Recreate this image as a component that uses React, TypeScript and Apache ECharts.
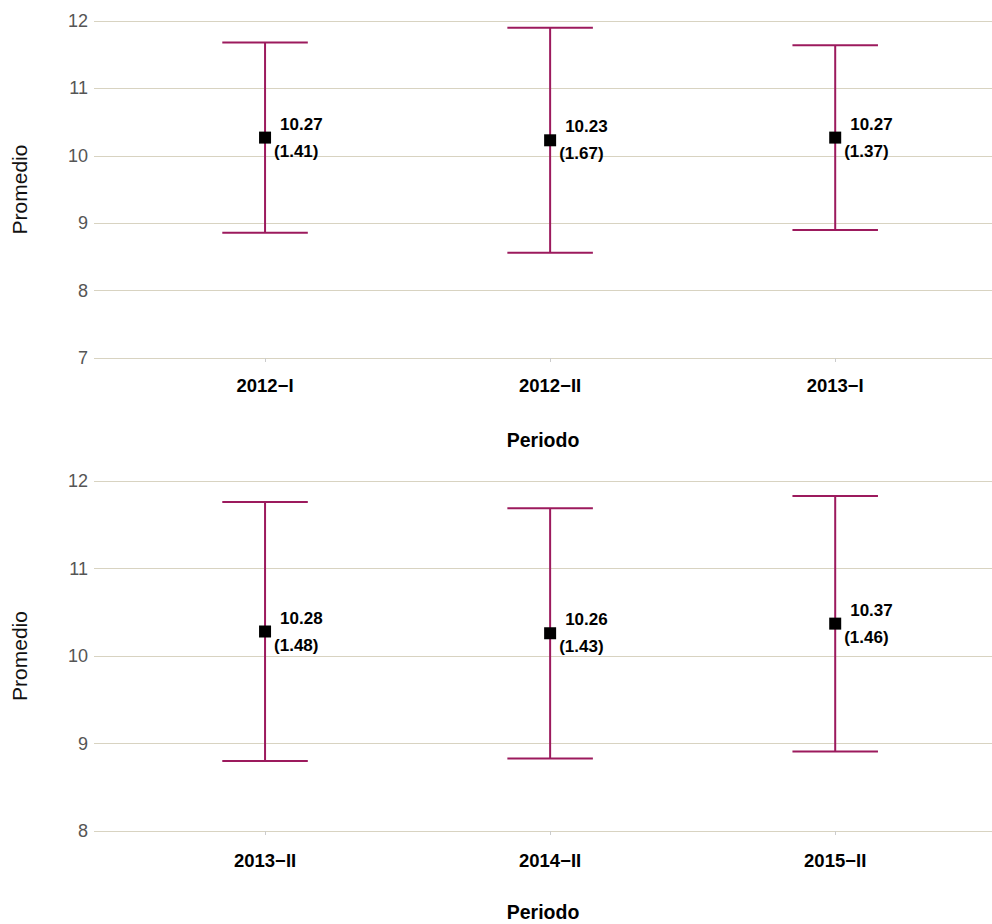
import React, { useEffect, useRef } from "react";
import * as echarts from "echarts";

const topCategories = ["2012−I", "2012−II", "2013−I"];
const topMeans = [10.27, 10.23, 10.27];
const topSds = [1.41, 1.67, 1.37];

const bottomCategories = ["2013−II", "2014−II", "2015−II"];
const bottomMeans = [10.28, 10.26, 10.37];
const bottomSds = [1.48, 1.43, 1.46];

const FONT = "Liberation Sans, Arial, Helvetica, sans-serif";
const BAR_COLOR = "#9c1a5d";
const GRID_COLOR = "#d8d3c1";

function buildSeries(idx: number, means: number[], sds: number[]) {
  const errData = means.map((m, i) => [i + 1, m - sds[i], m + sds[i]]);
  const ptData = means.map((m, i) => [i + 1, m, sds[i]]);
  return [
    {
      type: "custom",
      xAxisIndex: idx,
      yAxisIndex: idx,
      data: errData,
      z: 2,
      renderItem: (params: any, api: any) => {
        const x = api.value(0);
        const lo = api.value(1);
        const hi = api.value(2);
        const pLo = api.coord([x, lo]);
        const pHi = api.coord([x, hi]);
        const cL = api.coord([x - 0.15, lo]);
        const cR = api.coord([x + 0.15, lo]);
        const style = { stroke: BAR_COLOR, lineWidth: 2 };
        return {
          type: "group",
          children: [
            { type: "line", shape: { x1: pLo[0], y1: pLo[1], x2: pHi[0], y2: pHi[1] }, style },
            { type: "line", shape: { x1: cL[0], y1: pLo[1], x2: cR[0], y2: pLo[1] }, style },
            { type: "line", shape: { x1: cL[0], y1: pHi[1], x2: cR[0], y2: pHi[1] }, style },
          ],
        };
      },
    },
    {
      type: "scatter",
      xAxisIndex: idx,
      yAxisIndex: idx,
      data: ptData,
      symbol: "rect",
      symbolSize: 12,
      z: 3,
      itemStyle: { color: "#000000", opacity: 1 },
      label: {
        show: true,
        position: "right",
        distance: 3,
        align: "left",
        formatter: (p: any) => `{a|${p.value[1].toFixed(2)}}\n{b|(${p.value[2].toFixed(2)})}`,
        rich: {
          a: { fontFamily: FONT, fontWeight: "bold", fontSize: 17, color: "#000", padding: [0, 0, 0, 6], lineHeight: 27 },
          b: { fontFamily: FONT, fontWeight: "bold", fontSize: 17, color: "#000", padding: [0, 0, 0, 0], lineHeight: 27 },
        },
      },
    },
  ];
}

function xAxisFor(idx: number, cats: string[], margin: number, nameGap: number) {
  return {
    type: "value",
    gridIndex: idx,
    min: 0.4,
    max: 3.55,
    axisLine: { show: false },
    splitLine: { show: false },
    axisTick: { show: true, length: 4, lineStyle: { color: "#cccccc" }, customValues: [1, 2, 3] },
    axisLabel: {
      customValues: [1, 2, 3],
      formatter: (v: number) => cats[Math.round(v) - 1] ?? "",
      fontFamily: FONT,
      fontWeight: "bold",
      fontSize: 18.5,
      color: "#000",
      margin,
    },
    name: "Periodo",
    nameLocation: "middle",
    nameGap,
    nameTextStyle: { fontFamily: FONT, fontWeight: "bold", fontSize: 19.5, color: "#000" },
  };
}

function yAxisFor(idx: number, min: number, max: number) {
  return {
    type: "value",
    gridIndex: idx,
    min,
    max,
    interval: 1,
    axisLine: { show: false },
    axisTick: { show: false },
    splitLine: { show: true, lineStyle: { color: GRID_COLOR, width: 1 } },
    axisLabel: { fontFamily: FONT, fontSize: 18, color: "#555555", margin: 6 },
    name: "Promedio",
    nameLocation: "middle",
    nameGap: 64,
    nameTextStyle: { fontFamily: FONT, fontSize: 21, color: "#111" },
  };
}

export default function App() {
  const ref = useRef<HTMLDivElement>(null);
  useEffect(() => {
    document.body.style.margin = "0";
    if (!ref.current) return;
    const chart = echarts.init(ref.current, null, { renderer: "svg" });
    chart.setOption({
      animation: false,
      backgroundColor: "#ffffff",
      grid: [
        { left: 94, top: 21, right: 0, height: 337 },
        { left: 94, top: 481, right: 0, height: 350 },
      ],
      xAxis: [xAxisFor(0, topCategories, 18, 72), xAxisFor(1, bottomCategories, 20, 71)],
      yAxis: [yAxisFor(0, 7, 12), yAxisFor(1, 8, 12)],
      series: [...buildSeries(0, topMeans, topSds), ...buildSeries(1, bottomMeans, bottomSds)],
    });
    return () => chart.dispose();
  }, []);
  return <div ref={ref} style={{ width: 992, height: 924 }} />;
}
